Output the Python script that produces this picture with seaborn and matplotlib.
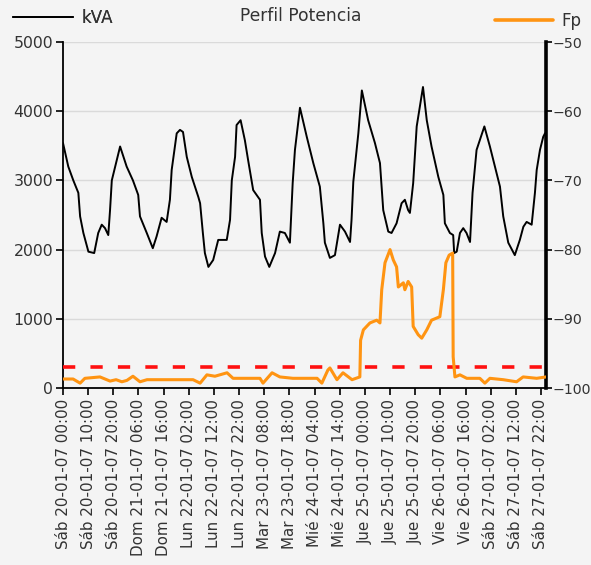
import numpy as np
import pandas as pd
import matplotlib
matplotlib.use("Agg")
import matplotlib.pyplot as plt
import seaborn as sns
from matplotlib.lines import Line2D

# ---------------- data (hours from Sáb 20-01-07 00:00) ----------------
kva_hours = [0, 2.1, 4.1, 6.1, 6.8, 8.1, 10.1, 12.4, 14.0, 15.4, 16.7, 18.0, 18.7, 19.4,
             22.7, 25.3, 27.8, 29.9, 30.6, 33.3, 35.7, 37.2, 39.2, 41.2, 42.5, 43.2,
             45.2, 46.5, 47.7, 49.2, 51.2, 53.8, 54.5, 55.6, 56.4, 57.8, 59.7, 61.7,
             65.1, 66.4, 67.1, 68.4, 69.0, 70.6, 72.3, 73.6, 75.6, 78.3, 79.0, 80.3,
             82.0, 84.3, 86.2, 88.2, 90.2, 91.3, 92.2, 94.2, 96.9, 99.5, 102.1, 103.5,
             104.1, 106.1, 108.1, 110.1, 112.1, 114.1, 114.7, 115.4, 117.4, 118.8,
             121.3, 124.0, 126.0, 127.3, 129.3, 130.6, 132.6, 134.6, 135.9, 137.2,
             137.9, 139.2, 140.6, 143.1, 144.6, 146.5, 149.2, 151.2, 151.8, 153.8,
             155.1, 155.5, 156.5, 157.8, 159.1, 160.4, 161.8, 162.8, 164.4, 167.5,
             169.7, 171.7, 173.7, 175.0, 177.0, 179.6, 181.6, 183.0, 184.3, 186.3,
             187.6, 188.3, 189.6, 190.9, 191.6]
kva_values = [3540, 3200, 3000, 2820, 2480, 2240, 1970, 1950, 2240, 2360, 2310, 2210, 2570, 3000,
              3490, 3200, 3000, 2790, 2480, 2240, 2020, 2190, 2460, 2400, 2720, 3150,
              3680, 3730, 3700, 3340, 3050, 2760, 2670, 2240, 1950, 1750, 1850, 2140,
              2140, 2430, 3000, 3340, 3800, 3870, 3580, 3290, 2860, 2720, 2240, 1900,
              1750, 1950, 2260, 2240, 2100, 2960, 3440, 4050, 3630, 3250, 2910, 2380,
              2100, 1880, 1920, 2360, 2260, 2110, 2430, 2980, 3680, 4300,
              3870, 3540, 3250, 2570, 2260, 2240, 2380, 2670, 2720, 2570,
              2530, 2960, 3780, 4350, 3870, 3490, 3050, 2790, 2380, 2240,
              2210, 1950, 1970, 2240, 2310, 2240, 2110, 2820, 3440, 3780,
              3490, 3200, 2910, 2480, 2100, 1920, 2140, 2330, 2400, 2360,
              2820, 3150, 3440, 3630, 3680]

fp_hours = [0, 4.0, 6.8, 8.7, 14.7, 18.7, 21.1, 23.4, 25.4, 27.8, 30.6, 33.4, 51.7,
            54.5, 57.2, 60.4, 65.2, 67.6, 78.3, 79.5, 83.1, 86.2, 91.4, 101.0, 102.9,
            105.3, 106.1, 108.9, 111.3, 114.9, 118.0, 118.3, 119.4, 122.0, 124.7,
            126.0, 126.7, 128.0, 130.0, 131.3, 132.6, 133.3, 135.3, 135.9, 137.2,
            138.6, 139.2, 141.2, 142.6, 144.6, 146.5, 149.8, 151.2, 152.2, 153.5,
            154.9, 155.1, 155.8, 157.8, 160.5, 165.7, 167.7, 169.7, 175.0, 180.3,
            182.9, 188.3, 192.0]
fp_values = [-98.7, -98.7, -99.3, -98.6, -98.4, -99.0, -98.8, -99.1, -98.9, -98.3, -99.1, -98.8, -98.8,
             -99.3, -98.1, -98.3, -97.8, -98.6, -98.6, -99.3, -97.8, -98.4, -98.6, -98.6, -99.3,
             -97.4, -97.1, -98.8, -97.8, -98.8, -98.4, -93.1, -91.6, -90.6, -90.2,
             -90.6, -85.8, -81.9, -80.0, -81.5, -82.5, -85.4, -84.8, -85.8, -84.6,
             -85.4, -91.1, -92.3, -92.8, -91.6, -90.2, -89.7, -85.8, -81.9, -80.8,
             -80.5, -95.5, -98.4, -98.1, -98.6, -98.6, -99.3, -98.6, -98.8, -99.1,
             -98.4, -98.6, -98.4]

fp_limit = -97

tick_hours = [0, 10, 20, 30, 40, 50, 60, 70, 80, 90, 100, 110, 120, 130, 140, 150, 160, 170, 180, 190]
tick_labels = ["Sáb 20-01-07 00:00", "Sáb 20-01-07 10:00", "Sáb 20-01-07 20:00",
               "Dom 21-01-07 06:00", "Dom 21-01-07 16:00", "Lun 22-01-07 02:00",
               "Lun 22-01-07 12:00", "Lun 22-01-07 22:00", "Mar 23-01-07 08:00",
               "Mar 23-01-07 18:00", "Mié 24-01-07 04:00", "Mié 24-01-07 14:00",
               "Jue 25-01-07 00:00", "Jue 25-01-07 10:00", "Jue 25-01-07 20:00",
               "Vie 26-01-07 06:00", "Vie 26-01-07 16:00", "Sáb 27-01-07 02:00",
               "Sáb 27-01-07 12:00", "Sáb 27-01-07 22:00"]

kva_df = pd.DataFrame({"hora": kva_hours, "kVA": kva_values})
fp_df = pd.DataFrame({"hora": fp_hours, "Fp": fp_values})

# ---------------- style ----------------
bg = "#f4f4f4"
txt = "#333333"
orange = "#ff9412"
sns.set_theme(style="whitegrid")
plt.rcParams["font.family"] = ["DejaVu Sans"]
plt.rcParams["figure.facecolor"] = bg
plt.rcParams["axes.facecolor"] = bg

fig = plt.figure(figsize=(5.91, 5.65), dpi=100)
ax = fig.add_axes([63 / 591, 1 - 388 / 565, (546 - 63) / 591, (388 - 42) / 565])
ax.set_facecolor(bg)

sns.lineplot(data=kva_df, x="hora", y="kVA", ax=ax, color="black", lw=1.4,
             legend=False, zorder=3)
ax.set_xlim(0, 192)
ax.set_ylim(0, 5000)
ax.set_yticks([0, 1000, 2000, 3000, 4000, 5000])
ax.set_xticks(tick_hours)
ax.set_xticklabels(tick_labels, rotation=90)
ax.set_xlabel("")
ax.set_ylabel("")
ax.grid(axis="y", color="#dadada", lw=1.0)
ax.grid(axis="x", visible=False)
ax.tick_params(axis="both", which="both", direction="out", length=5, width=1.2,
               color="black", labelcolor=txt, pad=2, left=True, bottom=True)
ax.tick_params(axis="x", labelsize=10.9, pad=3)
ax.tick_params(axis="y", labelsize=11.3)
for s in ["top", "right"]:
    ax.spines[s].set_visible(False)
ax.spines["left"].set_color("black")
ax.spines["left"].set_linewidth(1.3)
ax.spines["bottom"].set_color("black")
ax.spines["bottom"].set_linewidth(1.3)

ax2 = ax.twinx()
sns.lineplot(data=fp_df, x="hora", y="Fp", ax=ax2, color=orange, lw=2.2,
             legend=False, zorder=3)
ax2.axhline(fp_limit, color="#ff1010", lw=2.6, dashes=(3.4, 4.2), zorder=2)
ax2.set_ylim(-100, -50)
ax2.set_yticks([-100, -90, -80, -70, -60, -50])
ax2.set_ylabel("")
ax2.set_xlabel("")
ax2.grid(False)
ax2.tick_params(axis="y", direction="out", length=4, width=1.2, color="black",
                labelsize=10.2, labelcolor=txt, pad=0.5, right=True)
for s in ["top", "left", "bottom"]:
    ax2.spines[s].set_visible(False)
ax2.spines["right"].set_color("black")
ax2.spines["right"].set_linewidth(2.6)

# title and legends
fig.text(301 / 591, 1 - 16 / 565, "Perfil Potencia", ha="center", va="center",
         fontsize=12.3, color=txt)
leg1 = fig.legend(handles=[Line2D([], [], color="black", lw=1.4)], labels=["kVA"],
                  loc="center left", bbox_to_anchor=(-2 / 591, 1 - 18 / 565),
                  frameon=False, handlelength=3.6, handletextpad=0.5,
                  fontsize=12, labelcolor=txt)
leg2 = fig.legend(handles=[Line2D([], [], color=orange, lw=2.6)], labels=["Fp"],
                  loc="center left", bbox_to_anchor=(480 / 591, 1 - 21 / 565),
                  frameon=False, handlelength=3.5, handletextpad=0.5,
                  fontsize=12, labelcolor=txt)
fig.add_artist(leg1)

fig.savefig("out.png", dpi=100, facecolor=bg)
